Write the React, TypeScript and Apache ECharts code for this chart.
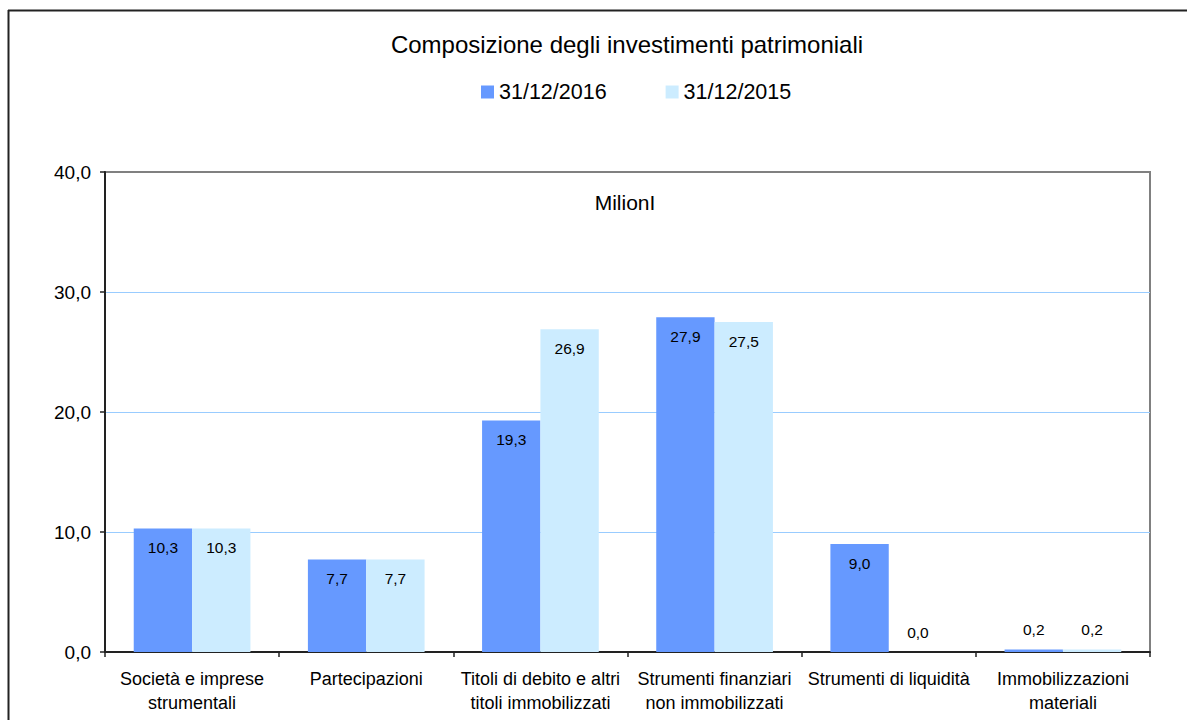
import React, { useEffect, useRef } from "react";
import * as echarts from "echarts";

const categories = [
  "Società e imprese\nstrumentali",
  "Partecipazioni",
  "Titoli di debito e altri\ntitoli immobilizzati",
  "Strumenti finanziari\nnon immobilizzati",
  "Strumenti di liquidità",
  "Immobilizzazioni\nmateriali",
];
const series2016 = [10.3, 7.7, 19.3, 27.9, 9.0, 0.2];
const series2015 = [10.3, 7.7, 26.9, 27.5, 0.0, 0.2];
const seriesNames = ["31/12/2016", "31/12/2015"];
const yTicks = { min: 0, max: 40, interval: 10 };

const FONT = "'Liberation Sans', Arial, sans-serif";
const fmt = (v: number) => v.toFixed(1).replace(".", ",");

function buildData(values: number[]) {
  return values.map((v) => ({
    value: v,
    label:
      v < 2
        ? { position: "top", distance: 12 }
        : { position: "insideTop", distance: 11 },
  }));
}

export default function App() {
  const ref = useRef<HTMLDivElement>(null);
  useEffect(() => {
    if (!ref.current) return;
    const chart = echarts.init(ref.current, undefined, { renderer: "svg" });
    const labelStyle = {
      show: true,
      formatter: (p: any) => fmt(p.value),
      color: "#000",
      fontSize: 15.5,
      fontFamily: FONT,
    };
    chart.setOption({
      animation: false,
      backgroundColor: "#fff",
      textStyle: { fontFamily: FONT },
      legend: {
        data: seriesNames,
        left: 481,
        top: 81,
        padding: 0,
        icon: "rect",
        itemWidth: 13,
        itemHeight: 13,
        itemGap: 59,
        textStyle: { fontSize: 21.5, color: "#000", fontFamily: FONT },
      },
      grid: {
        left: 105,
        top: 172,
        right: 37,
        bottom: 68,
        show: true,
        borderColor: "#808080",
        borderWidth: 2,
        containLabel: false,
      },
      xAxis: {
        type: "category",
        data: categories,
        axisLine: { lineStyle: { color: "#222", width: 2 } },
        axisTick: { show: true, length: 5, lineStyle: { color: "#222", width: 1.5 } },
        axisLabel: {
          interval: 0,
          fontSize: 18,
          lineHeight: 24,
          color: "#000",
          margin: 15,
          fontFamily: FONT,
        },
      },
      yAxis: {
        type: "value",
        min: yTicks.min,
        max: yTicks.max,
        interval: yTicks.interval,
        axisLine: { show: true, lineStyle: { color: "#222", width: 2 } },
        axisTick: { show: true, length: 5, lineStyle: { color: "#222", width: 1.5 } },
        axisLabel: {
          formatter: (v: number) => fmt(v),
          fontSize: 19,
          color: "#000",
          margin: 14,
          fontFamily: FONT,
        },
        splitLine: {
          showMaxLine: false,
          lineStyle: { color: "#99CCFF", width: 1 },
        },
      },
      series: [
        {
          name: seriesNames[0],
          type: "bar",
          data: buildData(series2016),
          itemStyle: { color: "#6699FF" },
          barGap: "0%",
          barCategoryGap: "33%",
          label: labelStyle,
        },
        {
          name: seriesNames[1],
          type: "bar",
          data: buildData(series2015),
          itemStyle: { color: "#CCECFF" },
          barGap: "0%",
          barCategoryGap: "33%",
          label: labelStyle,
        },
      ],
      graphic: [
        {
          type: "text",
          x: 627,
          y: 44,
          style: {
            text: "Composizione degli investimenti patrimoniali",
            fontSize: 24,
            fontFamily: FONT,
            fill: "#000",
            textAlign: "center",
            textVerticalAlign: "middle",
          },
        },
        {
          type: "text",
          x: 625,
          y: 202,
          style: {
            text: "MilionI",
            fontSize: 21,
            fontFamily: FONT,
            fill: "#000",
            textAlign: "center",
            textVerticalAlign: "middle",
          },
        },
        {
          type: "line",
          shape: { x1: 8.5, y1: 10, x2: 8.5, y2: 720 },
          style: { stroke: "#222", lineWidth: 2 },
        },
        {
          type: "line",
          shape: { x1: 8, y1: 10.5, x2: 1187, y2: 10.5 },
          style: { stroke: "#222", lineWidth: 2 },
        },
      ],
    });
    return () => chart.dispose();
  }, []);
  return (
    <div
      ref={ref}
      style={{ position: "absolute", left: 0, top: 0, width: 1187, height: 720 }}
    />
  );
}
